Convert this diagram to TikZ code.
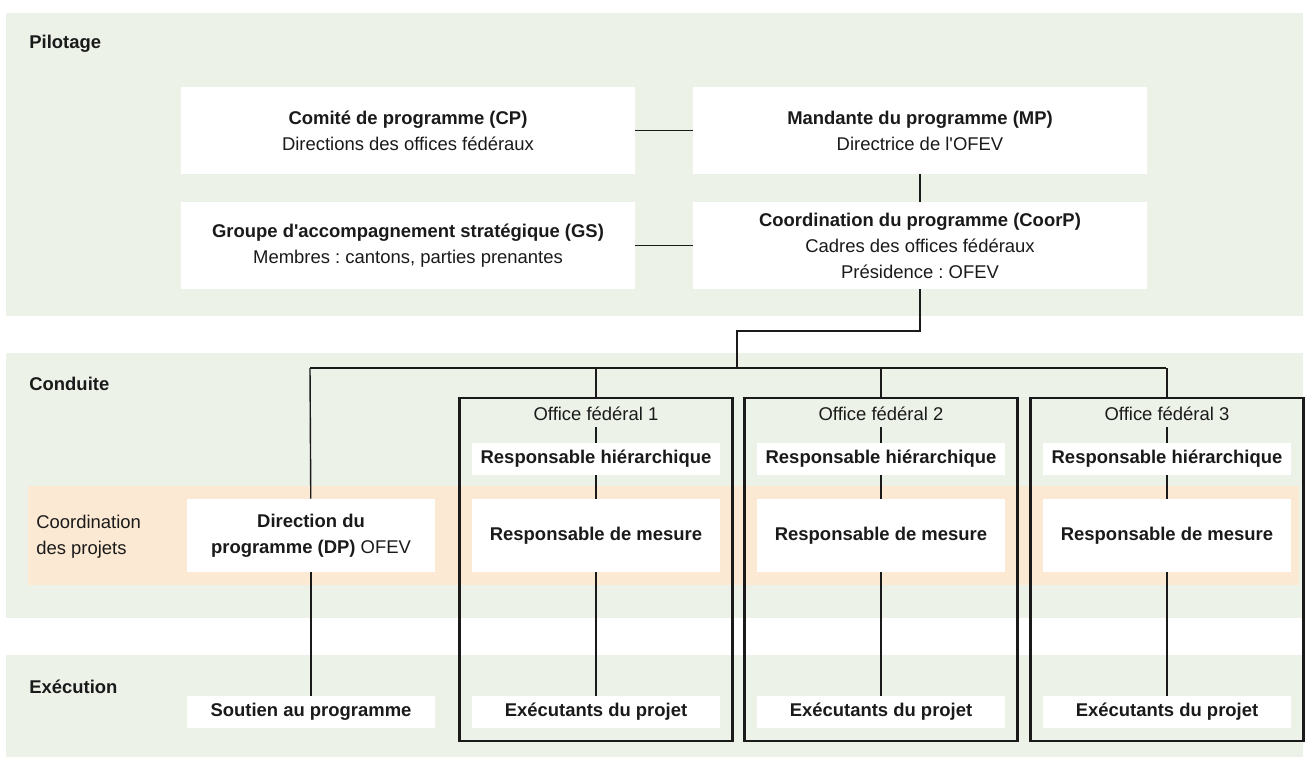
\documentclass[tikz,border=0pt]{standalone}
\usepackage{fontspec}
\setmainfont{Liberation Sans}
\usetikzlibrary{positioning}
\definecolor{bandgreen}{HTML}{EDF2E8}
\definecolor{bandorange}{HTML}{FCE9D3}
\definecolor{inkdark}{HTML}{1A1A1A}
\newcommand{\px}{0.02cm}
\frenchspacing

\begin{document}
\begin{tikzpicture}[x=\px, y=-\px,
		every node/.style={font=\fontsize{10.5}{14.8}\selectfont, text=inkdark},
		whitebox/.style={fill=white, align=center, inner sep=0pt},
		bigbox/.style={whitebox, minimum width=454*\px, minimum height=87*\px},
		midbox/.style={whitebox, minimum width=248*\px, minimum height=73*\px},
		smallbox/.style={whitebox, minimum width=248*\px, minimum height=32*\px},
		officebox/.style={draw=inkdark, line width=1.3pt, inner sep=0pt,
			minimum width=273*\px, minimum height=343*\px},
		rowlabel/.style={anchor=west, inner sep=0pt, font=\fontsize{10.5}{14.8}\selectfont\bfseries},
		link/.style={draw=inkdark, line width=0.8pt}
	]
			\useasboundingbox (0,0) rectangle (1309,758);

			% bands
			\fill[bandgreen] (6,13) rectangle (1303,316);
			\fill[bandgreen] (6,353) rectangle (1303,618);
			\fill[bandgreen] (6,655) rectangle (1303,757);
			\fill[bandorange] (28,486) rectangle (1299,585);

			\node[rowlabel] (pilotage) at (29,44) {Pilotage};
			\node[rowlabel] (conduite) at (29,384) {Conduite};
			\node[rowlabel] (execution) at (29,687) {Exécution};
			\node[anchor=west, align=left, inner sep=0pt] (coordproj) at (36,537) {Coordination\\des projets};

			% pilotage
			\node[bigbox] (cp) at (408,130.5) {\textbf{Comité de programme (CP)}\\Directions des offices fédéraux};
			\node[bigbox] (mp) at (920,130.5) {\textbf{Mandante du programme (MP)}\\Directrice de l\textquotesingle OFEV};
			\node[bigbox] (gs) at (408,245.5) {\textbf{Groupe d\textquotesingle accompagnement stratégique (GS)}\\Membres : cantons, parties prenantes};
			\node[bigbox] (coorp) at (920,245.5) {\textbf{Coordination du programme (CoorP)}\\Cadres des offices fédéraux\\Présidence : OFEV};

			\draw[link] (cp) -- (mp);
			\draw[link] (gs) -- (coorp);
			\draw[link] (mp) -- (coorp);

			% conduite / execution
			\node[midbox] (dp) at (311,535.5) {\textbf{Direction du}\\\textbf{programme (DP)} OFEV};
			\node[smallbox] (soutien) at (311,712) {\textbf{Soutien au programme}};

			\coordinate (elbow) at (737,331);
			\coordinate (busL) at (310,368);
			\coordinate (busR) at (1166,368);
			\draw[link] (coorp.south) |- (elbow) -- (elbow |- busL);
			\draw[link] (busL) -- (busR);
			\draw[link] (busL) -- (dp);
			\draw[link] (dp) -- (soutien);

			\foreach \i/\x in {1/596,2/881,3/1167} {
				\node[officebox] (ob\i) at (\x,569.5) {};
				\node (of\i) at (\x,414) {Office fédéral \i};
				\node[smallbox] (rh\i) at (\x,459) {\textbf{Responsable hiérarchique}};
				\node[midbox] (rm\i) at (\x,535.5) {\textbf{Responsable de mesure}};
				\node[smallbox] (ex\i) at (\x,712) {\textbf{Exécutants du projet}};
				\draw[link] (ob\i.north) -- (ob\i.north |- busL);
				\draw[link] (of\i) -- (rh\i) -- (rm\i) -- (ex\i);
			}
		\end{tikzpicture}
\end{document}
